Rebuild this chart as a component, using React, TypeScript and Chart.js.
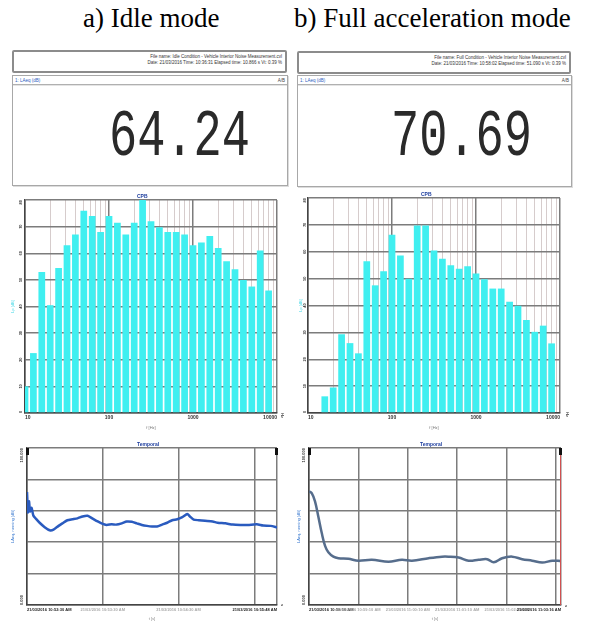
import React, { useEffect, useRef } from "react";
import { Chart, registerables } from "chart.js";
Chart.register(...registerables);

// ---------- data ----------
const bandHz = [10, 12.5, 16, 20, 25, 31.5, 40, 50, 63, 80, 100, 125, 160, 200, 250, 315, 400, 500, 630, 800, 1000, 1250, 1600, 2000, 2500, 3150, 4000, 5000, 6300, 8000];
const idleLevels = [10, 22.5, 53, 40.5, 54.5, 63, 67, 76, 74, 68, 74, 71.5, 67, 71.5, 80, 72, 69.8, 68, 68, 67, 63, 64, 66.5, 62, 57, 54, 50, 47.5, 61, 46];
const fullLevels = [0, 0, 6.2, 9.5, 29.3, 26, 22.2, 56.5, 47.5, 52.7, 66.3, 58.6, 50, 69.8, 69.8, 60.5, 57.4, 55, 53.7, 54.6, 51.9, 49.8, 46.3, 46.3, 41.4, 39.9, 34.6, 30.2, 32.5, 25.9];
const histYLabels = ["0", "10", "20", "30", "40", "50", "60", "70", "80"];

const idleTime = [0, 0.8, 1.6, 2.4, 3.6, 5, 7, 10, 14, 18, 21, 25, 28, 32, 36, 40, 44, 48, 52, 56, 59, 63, 67, 71, 75, 79, 83, 87, 91, 95, 99, 103, 107, 111, 115, 119, 123, 127, 129, 132, 136, 141, 147, 151, 157, 163, 169, 175, 182, 187, 193, 198];
const idleLeq = [72, 59, 66, 59.6, 62, 57, 55, 52.4, 49.6, 47.6, 48, 50.4, 52, 54, 54.6, 55.2, 56.4, 56.8, 55, 53.2, 52, 51, 51.4, 51.2, 52, 53.2, 53, 52, 51, 50.4, 50, 50, 51.2, 52.4, 54, 54.6, 56, 58, 56.4, 54.4, 54, 53.6, 53.2, 52.4, 52, 51.2, 51, 51, 51.4, 50.6, 50.4, 49.4];
const fullTime = [0, 3.3, 7.3, 11.3, 15.5, 19.5, 23.5, 29.6, 35.7, 47.8, 60, 76.3, 96.5, 112.8, 125, 145.2, 161.5, 169.5, 181.7, 193.9, 206, 216.3, 224.3, 234.5, 246.7, 258.9, 271, 283.2, 295.4, 306];
const fullLeq = [72.4, 71.2, 66, 56.4, 45.8, 37.6, 33.6, 30.8, 29.8, 29.4, 28.2, 28.8, 27.6, 28.8, 28.2, 29.8, 30.8, 30.8, 30.2, 28.2, 28.8, 29.2, 27.2, 29.8, 30.8, 29.2, 28.2, 27, 28.2, 28];
const lineYLabels = ["0.000", "100.000"];
const idleStart = "10:52:30";
const fullStart = "10:58:10";

const BAR = "#40eff0";
const GRID_DARK = "#7c7c7c";
const GRID_LIGHT = "#d6cccc";

// ---------- helpers ----------
const isPow10 = (v: number) => Math.abs(Math.log10(v) - Math.round(Math.log10(v))) < 1e-9;

function fmtTime(start: string, sec: number) {
  const [h, m, s] = start.split(":").map(Number);
  let t = h * 3600 + m * 60 + s + Math.round(sec);
  const hh = Math.floor(t / 3600);
  t -= hh * 3600;
  const mm = Math.floor(t / 60);
  const ss = t - mm * 60;
  const p = (n: number) => String(n).padStart(2, "0");
  return `21/03/2016 ${hh}:${p(mm)}:${p(ss)} AM`;
}

function rotYLabels(labelFor: (i: number, n: number) => string, color: string, size: number, gap: number) {
  return {
    id: "rotY",
    afterDraw(chart: any) {
      const s = chart.scales.y;
      const c = chart.ctx;
      const n = s.ticks.length;
      c.save();
      c.font = `bold ${size}px Arial`;
      c.fillStyle = color;
      c.textBaseline = "middle";
      s.ticks.forEach((t: any, i: number) => {
        const label = labelFor(i, n);
        if (!label) return;
        c.save();
        c.translate(s.right - gap, s.getPixelForValue(t.value));
        c.rotate(-Math.PI / 2);
        c.textAlign = i === 0 ? "left" : i === n - 1 ? "right" : "center";
        c.fillText(label, 0, 0);
        c.restore();
      });
      c.restore();
    },
  };
}

function cursors(red: boolean) {
  return {
    id: "cursors",
    afterDraw(chart: any) {
      const a = chart.chartArea;
      const c = chart.ctx;
      c.save();
      if (red) {
        c.strokeStyle = "#d05050";
        c.lineWidth = 1;
        c.beginPath();
        c.moveTo(a.right - 0.5, a.top);
        c.lineTo(a.right - 0.5, a.bottom);
        c.stroke();
      }
      c.fillStyle = "#111";
      c.fillRect(a.left - 1, a.top, 3, 7);
      c.fillRect(a.right - 2, a.top, 3, 7);
      c.restore();
    },
  };
}

function histConfig(levels: number[], pad: { left: number; top: number; right: number }, yWidth: number, xHeight: number, labelGap: number) {
  return {
    type: "bar",
    data: {
      datasets: [
        {
          data: bandHz.map((f, i) => ({ x: i, y: levels[i] })),
          backgroundColor: BAR,
          borderWidth: 0,
          barPercentage: 0.8,
          categoryPercentage: 1,
          xAxisID: "xb",
          yAxisID: "y",
        },
      ],
    },
    options: {
      responsive: false,
      animation: false,
      devicePixelRatio: 1,
      layout: { autoPadding: false, padding: { left: pad.left, top: pad.top, right: pad.right, bottom: 0 } },
      plugins: { legend: { display: false }, tooltip: { enabled: false }, title: { display: false } },
      scales: {
        xb: { type: "linear", display: false, offset: false, min: 0, max: bandHz.length, ticks: { stepSize: 1 }, grid: { offset: false } },
        x: {
          type: "logarithmic",
          position: "bottom",
          offset: false,
          min: 10,
          max: 10000,
          afterBuildTicks: (s: any) => {
            s.ticks = s.ticks.filter((t: any) => {
              const m = t.value / Math.pow(10, Math.floor(Math.log10(t.value) + 1e-9));
              return Math.abs(m - Math.round(m)) < 1e-6;
            });
          },
          afterFit: (s: any) => {
            s.height = xHeight;
          },
          grid: {
            offset: false,
            drawTicks: false,
            color: (ctx: any) => (ctx.tick && isPow10(ctx.tick.value) ? GRID_DARK : GRID_LIGHT),
            lineWidth: (ctx: any) => (ctx.tick && isPow10(ctx.tick.value) ? 1.5 : 1),
          },
          border: { color: "#444", width: 1.5 },
          ticks: {
            autoSkip: false,
            maxRotation: 0,
            minRotation: 0,
            align: "inner",
            padding: 2,
            color: "#333",
            font: { size: 5, weight: "bold", family: "Arial" },
            callback: (v: any) => (isPow10(Number(v)) ? String(v) : ""),
          },
          title: { display: true, text: "f [Hz]", color: "#777", font: { size: 4, family: "Arial" }, padding: 0 },
        },
        y: {
          min: 0,
          max: 80,
          afterFit: (s: any) => {
            s.width = yWidth;
          },
          ticks: { display: false, stepSize: 10 },
          grid: { color: GRID_DARK, lineWidth: 1.5, drawTicks: false },
          border: { color: "#444", width: 1.5 },
          title: { display: true, text: "Lp [dB]", color: "#40d8e6", font: { size: 4, family: "Arial" }, padding: 0 },
        },
      },
    },
    plugins: [rotYLabels((i) => histYLabels[i] || "", "#333", 4, labelGap)],
  };
}

function lineConfig(time: number[], values: number[], start: string, color: string, tension: number, pad: { left: number; top: number; right: number }, yWidth: number, xHeight: number, labelGap: number, red: boolean) {
  const xMax = time[time.length - 1];
  return {
    type: "line",
    data: {
      datasets: [
        {
          data: time.map((t, i) => ({ x: t, y: values[i] })),
          borderColor: color,
          borderWidth: 2.5,
          pointRadius: 0,
          tension,
          fill: false,
        },
      ],
    },
    options: {
      responsive: false,
      animation: false,
      devicePixelRatio: 1,
      layout: { autoPadding: false, padding: { left: pad.left, top: pad.top, right: pad.right, bottom: 0 } },
      plugins: { legend: { display: false }, tooltip: { enabled: false }, title: { display: false } },
      scales: {
        x: {
          type: "linear",
          min: 0,
          max: xMax,
          afterBuildTicks: (s: any) => {
            const last = s.ticks[s.ticks.length - 1];
            if (!last || last.value < s.max) s.ticks.push({ value: s.max });
          },
          afterFit: (s: any) => {
            s.height = xHeight;
          },
          grid: { color: GRID_DARK, lineWidth: 1.5, drawTicks: false },
          border: { color: "#444", width: 1.5 },
          ticks: {
            stepSize: 60,
            includeBounds: false,
            autoSkip: false,
            maxRotation: 0,
            minRotation: 0,
            align: "inner",
            padding: 2,
            font: { size: 4, weight: "bold", family: "Arial" },
            color: (ctx: any) => (ctx.index === 0 || ctx.tick.value === xMax ? "#222" : "#aaa"),
            callback: (v: any, i: number, ticks: any[]) => {
              const val = Number(v);
              const n = ticks.length;
              if (i === 0 || i === n - 1) return fmtTime(start, val);
              if (xMax - val < 45) return "";
              return fmtTime(start, val);
            },
          },
          title: { display: true, text: "t [s]", color: "#888", font: { size: 4, family: "Arial" }, padding: 0 },
        },
        y: {
          min: 0,
          max: 100,
          afterFit: (s: any) => {
            s.width = yWidth;
          },
          ticks: { display: false, stepSize: 20 },
          grid: { color: GRID_DARK, lineWidth: 1.5, drawTicks: false },
          border: { color: "#444", width: 1.5 },
          title: { display: true, text: "LAeq, running [dB]", color: "#3a7ad0", font: { size: 4, family: "Arial" }, padding: 0 },
        },
      },
    },
    plugins: [rotYLabels((i, n) => (i === 0 ? lineYLabels[0] : i === n - 1 ? lineYLabels[1] : ""), "#333", 4, labelGap), cursors(red)],
  };
}

// ---------- components ----------
function ChartBox({ left, top, width, height, make }: { left: number; top: number; width: number; height: number; make: () => any }) {
  const ref = useRef<HTMLCanvasElement>(null);
  useEffect(() => {
    const chart = new Chart(ref.current as HTMLCanvasElement, make());
    return () => chart.destroy();
  }, []);
  return <canvas ref={ref} width={width} height={height} style={{ position: "absolute", left, top, width, height }} />;
}

function HeaderBox({ left, top, width, line1, line2 }: { left: number; top: number; width: number; line1: string; line2: string }) {
  return (
    <div
      style={{
        position: "absolute",
        left,
        top,
        width: width - 4,
        height: 17,
        border: "2px solid #8c8c8c",
        borderRadius: 2,
        textAlign: "right",
        font: "4.5px Arial",
        color: "#333",
        lineHeight: "6px",
        paddingTop: 2,
        boxSizing: "content-box",
      }}
    >
      <div style={{ paddingRight: 3 }}>{line1}</div>
      <div style={{ paddingRight: 3 }}>{line2}</div>
    </div>
  );
}

function NumberBox({ left, top, width, height, value, numLeft }: { left: number; top: number; width: number; height: number; value: string; numLeft: number }) {
  return (
    <>
      <div style={{ position: "absolute", left, top, width: width - 2, height: height - 2, border: "1px solid #a8a8a8", boxShadow: "1px 1px 0 #dcdcdc" }}>
        <div style={{ height: 8, borderBottom: "1px solid #b0b0b0", boxShadow: "0 1px 0 #e4e4e4", position: "relative", font: "4.5px Arial" }}>
          <span style={{ position: "absolute", left: 2, top: 2, color: "#3060c0" }}>1: LAeq (dB)</span>
          <span style={{ position: "absolute", right: 2, top: 2, color: "#444" }}>A/B</span>
        </div>
      </div>
      <div
        style={{
          position: "absolute",
          left: numLeft,
          top: 104,
          fontFamily: '"Liberation Mono", "Courier New", monospace',
          fontSize: 47,
          lineHeight: "47px",
          color: "#2a2a2a",
          transform: "scaleY(1.42)",
          transformOrigin: "0 0",
          whiteSpace: "nowrap",
        }}
      >
        {value}
      </div>
    </>
  );
}

const tiny = (left: number, top: number, text: string, color = "#2040a0") => (
  <div style={{ position: "absolute", left, top, font: "bold 5px Arial", color, whiteSpace: "nowrap" }}>{text}</div>
);

const vtiny = (left: number, top: number, text: string) => (
  <div
    style={{
      position: "absolute",
      left,
      top,
      font: "bold 4px Arial",
      color: "#444",
      whiteSpace: "nowrap",
      transform: "rotate(90deg)",
      transformOrigin: "0 0",
    }}
  >
    {text}
  </div>
);

export default function App() {
  return (
    <div style={{ position: "fixed", left: 0, top: 0, width: 589, height: 621, background: "#fff", overflow: "hidden" }}>
      <div style={{ position: "absolute", left: 83, top: 3, font: '27px "Liberation Serif", "Times New Roman", serif', color: "#000", whiteSpace: "nowrap" }}>
        a) Idle mode
      </div>
      <div style={{ position: "absolute", left: 294, top: 3, font: '27px "Liberation Serif", "Times New Roman", serif', color: "#000", whiteSpace: "nowrap" }}>
        b) Full acceleration mode
      </div>

      <HeaderBox
        left={12}
        top={50}
        width={275}
        line1="File name: Idle Condition - Vehicle Interior Noise Measurement.cvl"
        line2="Date: 21/03/2016  Time: 10:36:31  Elapsed time: 10.866 s  Vt: 0.39 %"
      />
      <HeaderBox
        left={297}
        top={51}
        width={274}
        line1="File name: Full Condition - Vehicle Interior Noise Measurement.cvl"
        line2="Date: 21/03/2016  Time: 10:58:02  Elapsed time: 51.090 s  Vt: 0.39 %"
      />
      <NumberBox left={12} top={75} width={276} height={111} value="64.24" numLeft={109} />
      <NumberBox left={297} top={75} width={275} height={112} value="70.69" numLeft={391} />

      <ChartBox left={0} top={190} width={295} height={240} make={() => histConfig(idleLevels, { left: 10, top: 10, right: 18 }, 15, 17, 4.5)} />
      <ChartBox left={295} top={190} width={294} height={240} make={() => histConfig(fullLevels, { left: 3, top: 8, right: 29 }, 10, 17, 3)} />
      {tiny(137, 193, "CPB")}
      {tiny(421, 191, "CPB")}
      {vtiny(285, 413, "Hz")}
      {vtiny(570, 412, "Hz")}

      <ChartBox
        left={0}
        top={432}
        width={295}
        height={189}
        make={() => lineConfig(idleTime, idleLeq, idleStart, "#2a5bbf", 0.2, { left: 10, top: 16, right: 18 }, 17, 16, 5.5, false)}
      />
      <ChartBox
        left={295}
        top={432}
        width={294}
        height={189}
        make={() => lineConfig(fullTime, fullLeq, fullStart, "#566d8c", 0.35, { left: 1, top: 16, right: 28 }, 13, 16, 5, true)}
      />
      {tiny(137, 441, "Temporal")}
      {tiny(420, 441, "Temporal")}
      {vtiny(285, 604, "s")}
      {vtiny(569, 605, "s")}
    </div>
  );
}
